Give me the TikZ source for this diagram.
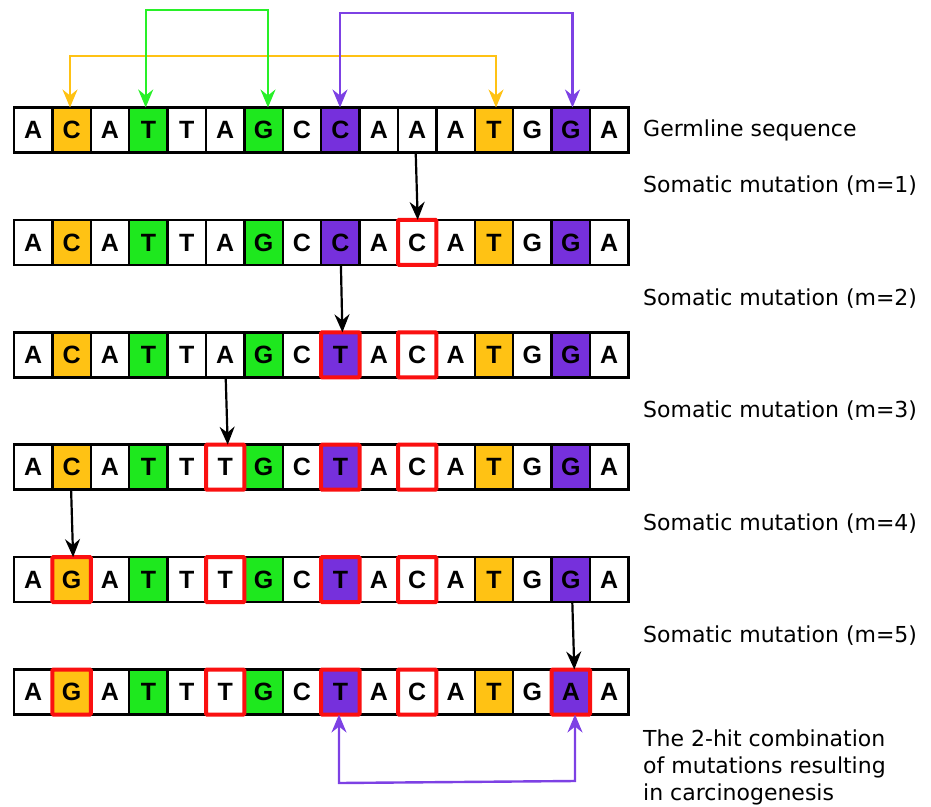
\documentclass[tikz,border=0pt]{standalone}
\usepackage{fontspec}
\setmainfont{DejaVu Sans}
\newfontfamily\basefont{Liberation Sans}
\usetikzlibrary{arrows.meta}

\definecolor{orng}{RGB}{255,194,20}
\definecolor{grn}{RGB}{30,232,30}
\definecolor{prp}{RGB}{118,48,220}
\definecolor{grnline}{RGB}{40,240,40}
\definecolor{prpline}{RGB}{125,65,228}
\definecolor{mutred}{RGB}{250,16,16}

\tikzset{
  head/.tip={Stealth[length=18pt,width=15pt,inset=6pt]},
  base/.style={draw=black, line width=2.5pt, minimum width=38.4pt,
    minimum height=45pt, inner sep=0pt, outer sep=0pt,
    font=\basefont\bfseries\fontsize{25}{29}\selectfont},
  hit/.style={draw=mutred, line width=4pt, rounded corners=1pt},
  mutarrow/.style={black, line width=2.2pt, -head},
  link/.style={line width=2.4pt, head-head},
  caption/.style={anchor=west, inner sep=0pt, font=\fontsize{22}{27}\selectfont}
}

\begin{document}
\begin{tikzpicture}[x=1pt,y=-1pt]
\useasboundingbox (0,0) rectangle (931,806);

% background colour of each position along the sequence
\def\shade{{"white","orng","white","grn","white","white","grn","white",
            "prp","white","white","white","orng","white","prp","white"}}

% the six sequences, germline first
\foreach \r/\seq in {
  1/{A,C,A,T,T,A,G,C,C,A,A,A,T,G,G,A},
  2/{A,C,A,T,T,A,G,C,C,A,C,A,T,G,G,A},
  3/{A,C,A,T,T,A,G,C,T,A,C,A,T,G,G,A},
  4/{A,C,A,T,T,T,G,C,T,A,C,A,T,G,G,A},
  5/{A,G,A,T,T,T,G,C,T,A,C,A,T,G,G,A},
  6/{A,G,A,T,T,T,G,C,T,A,C,A,T,G,A,A}}{
  \foreach \b [count=\i from 0] in \seq {
    \pgfmathsetmacro\fc{\shade[\i]}
    \node[base, fill=\fc] (c\r-\i) at ({14+38.4*(\i+0.5)},{130+112.4*(\r-1)}) {\b};
  }
}

% mutated positions
\foreach \r/\i in {2/10, 3/8,3/10, 4/5,4/8,4/10, 5/1,5/5,5/8,5/10,
                   6/1,6/5,6/8,6/10,6/14}
  \draw[hit] (c\r-\i.south west) rectangle (c\r-\i.north east);

% somatic mutation steps
\draw[mutarrow] ([xshift=-1.5pt]c1-10.south) -- ([xshift=0.5pt]c2-10.north);
\draw[mutarrow] ([xshift=0.5pt]c2-8.south) -- ([xshift=2pt]c3-8.north);
\draw[mutarrow] ([xshift=0.5pt]c3-5.south) -- ([xshift=2.5pt]c4-5.north);
\draw[mutarrow] ([xshift=-0.5pt]c4-1.south) -- ([xshift=1.5pt]c5-1.north);
\draw[mutarrow] ([xshift=1.5pt]c5-14.south) -- ([xshift=3.5pt]c6-14.north);

% pairings in the germline sequence
\coordinate (g1) at (145.7,10);
\coordinate (g2) at (268,10);
\coordinate (p1) at (340,13);
\coordinate (p2) at (572.5,13);
\coordinate (o1) at (70,56);
\coordinate (o2) at (496,56);
\draw[link, orng] (c1-1.north -| o1) -- (o1) -- (o2) -- (c1-12.north -| o2);
\draw[link, grnline] (c1-3.north -| g1) -- (g1) -- (g2) -- (c1-6.north -| g2);
\draw[link, prpline] (c1-8.north -| p1) -- (p1) -- (p2) -- (c1-14.north -| p2);

% the resulting 2-hit combination
\coordinate (q1) at (339,783);
\coordinate (q2) at (575,781);
\draw[link, prpline] (c6-8.south -| q1) -- (q1) -- (q2) -- (c6-14.south -| q2);

% captions
\node[caption] (lg) at (643,130) {Germline sequence};
\foreach \m in {1,...,5}
  \node[caption] (lm\m) at (643,{186+112.4*(\m-1)}) {Somatic mutation (m=\m)};
\node[caption, anchor=north west, align=left] (lf) at (643,730)
  {The 2-hit combination\\of mutations resulting\\in carcinogenesis};
\end{tikzpicture}
\end{document}
